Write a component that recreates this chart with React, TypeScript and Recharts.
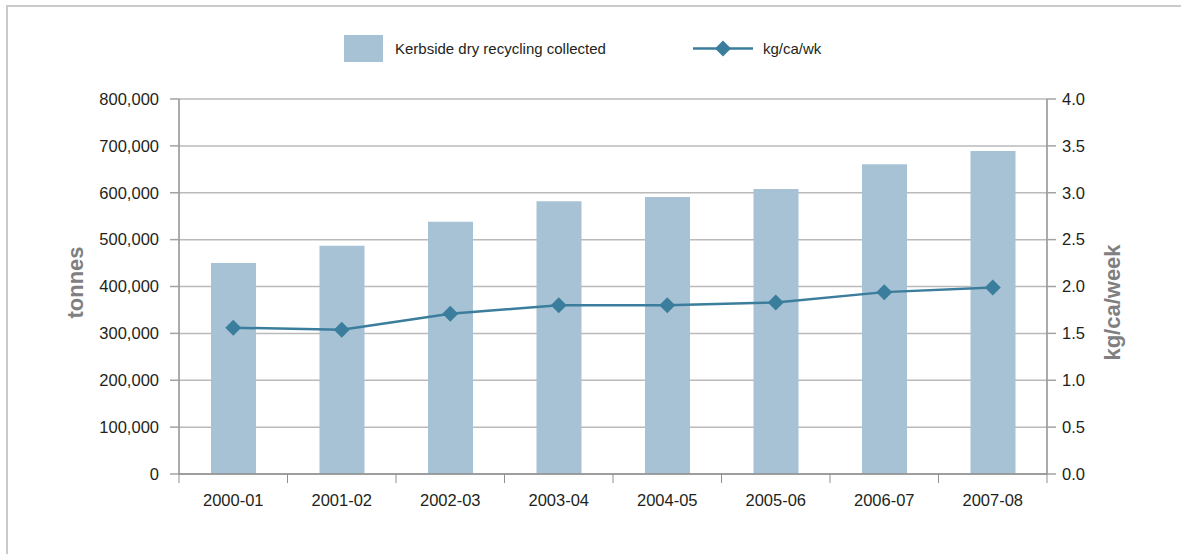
import React from 'react';
import { ComposedChart, Bar, Line, XAxis, YAxis, CartesianGrid } from 'recharts';

// financial years on the category axis
const years = ['2000-01', '2001-02', '2002-03', '2003-04', '2004-05', '2005-06', '2006-07', '2007-08'];
// kerbside dry recycling collected, tonnes
const tonnesCollected = [450000, 487000, 538000, 582000, 591000, 608000, 661000, 689000];
// kg per capita per week
const kgPerCapitaWeek = [1.56, 1.54, 1.71, 1.8, 1.8, 1.83, 1.94, 1.99];

const tonnesTicks = [0, 100000, 200000, 300000, 400000, 500000, 600000, 700000, 800000];
const kgTicks = [0, 0.5, 1, 1.5, 2, 2.5, 3, 3.5, 4];

const data = years.map((year, i) => ({
    year,
    tonnes: tonnesCollected[i],
    kg: kgPerCapitaWeek[i],
}));

// layout
const CHART_W = 1181;
const CHART_H = 554;
const PLOT_LEFT = 179;
const PLOT_RIGHT = 1047;
const PLOT_TOP = 99;
const PLOT_BOTTOM = 474;
const Y_AXIS_W = 100;
const X_AXIS_H = 30;
const HALF_BAND = (PLOT_RIGHT - PLOT_LEFT) / years.length / 2;

const BAR_COLOR = '#a7c2d4';
const LINE_COLOR = '#3b7d9c';
const AXIS_COLOR = '#8f8f8f';
const TICK_COLOR = '#a3a3a3';
const GRID_COLOR = '#bababa';
const TEXT_COLOR = '#231f20';
const TITLE_COLOR = '#808080';
const FONT = "'Liberation Sans', Arial, sans-serif";
const TICK_FONT_SIZE = 16.5;

const fmtTonnes = (v: number) => v.toLocaleString('en-GB');
const fmtKg = (v: number) => v.toFixed(1);

// x tick: label in the middle of the band, tick mark on the band boundaries
const YearTick = (props: any) => {
    const { x, y, payload, index, visibleTicksCount } = props;
    return (
        <g>
            <line x1={x - HALF_BAND} x2={x - HALF_BAND} y1={y} y2={y + 9} stroke={AXIS_COLOR} />
            {index === visibleTicksCount - 1 && (
                <line x1={x + HALF_BAND} x2={x + HALF_BAND} y1={y} y2={y + 9} stroke={AXIS_COLOR} />
            )}
            <text x={x} y={y + 32} textAnchor="middle" fill={TEXT_COLOR} fontSize={TICK_FONT_SIZE} fontFamily={FONT}>
                {payload.value}
            </text>
        </g>
    );
};

const Diamond = (props: any) => {
    const { cx, cy } = props;
    if (cx == null || cy == null) return null;
    const r = 8;
    return (
        <path
            d={`M${cx},${cy - r} L${cx + r},${cy} L${cx},${cy + r} L${cx - r},${cy} Z`}
            fill={LINE_COLOR}
        />
    );
};

const axisTitle = (text: string, dx: number, dy: number) => (props: any) => {
    const vb = props.viewBox || {};
    const x = vb.x + dx;
    const y = vb.y + vb.height / 2 + dy;
    return (
        <text
            x={x}
            y={y}
            transform={`rotate(-90, ${x}, ${y})`}
            textAnchor="middle"
            dominantBaseline="central"
            fill={TITLE_COLOR}
            fontSize={22}
            fontWeight="bold"
            fontFamily={FONT}
        >
            {text}
        </text>
    );
};

const Legend = () => (
    <div style={{ position: 'absolute', left: 0, top: 0, fontFamily: FONT, fontSize: 15, color: TEXT_COLOR }}>
        <div style={{ position: 'absolute', left: 344, top: 35, width: 39, height: 27, background: BAR_COLOR }} />
        <div style={{ position: 'absolute', left: 395, top: 35, height: 27, lineHeight: '27px', whiteSpace: 'nowrap' }}>
            Kerbside dry recycling collected
        </div>
        <svg style={{ position: 'absolute', left: 690, top: 35 }} width={66} height={27}>
            <line x1={3} x2={63} y1={13.5} y2={13.5} stroke={LINE_COLOR} strokeWidth={2.5} />
            <path d="M33,5.5 L41,13.5 L33,21.5 L25,13.5 Z" fill={LINE_COLOR} />
        </svg>
        <div style={{ position: 'absolute', left: 763, top: 35, height: 27, lineHeight: '27px', whiteSpace: 'nowrap' }}>
            kg/ca/wk
        </div>
    </div>
);

export default function App() {
    return (
        <div
            style={{
                position: 'fixed',
                left: 0,
                top: 0,
                width: CHART_W,
                height: CHART_H,
                overflow: 'hidden',
                background: '#fff',
            }}
        >
            <div
                style={{
                    position: 'absolute',
                    left: 6,
                    top: 5,
                    width: 1240,
                    height: 640,
                    border: '2px solid #cacaca',
                }}
            />
            <Legend />
            <div style={{ position: 'absolute', left: 0, top: 0 }}>
                <ComposedChart
                    width={CHART_W}
                    height={CHART_H}
                    data={data}
                    barSize={45}
                    margin={{
                        top: PLOT_TOP,
                        left: PLOT_LEFT - Y_AXIS_W,
                        right: CHART_W - PLOT_RIGHT - Y_AXIS_W,
                        bottom: CHART_H - PLOT_BOTTOM - X_AXIS_H,
                    }}
                >
                    <CartesianGrid vertical={false} stroke={GRID_COLOR} strokeWidth={1.5} yAxisId="left" />
                    <XAxis
                        dataKey="year"
                        height={X_AXIS_H}
                        tickSize={0}
                        tickMargin={0}
                        tickLine={false}
                        axisLine={{ stroke: AXIS_COLOR, strokeWidth: 1.5 }}
                        tick={<YearTick />}
                        interval={0}
                    />
                    <YAxis
                        yAxisId="left"
                        width={Y_AXIS_W}
                        domain={[0, 800000]}
                        ticks={tonnesTicks}
                        tickFormatter={fmtTonnes}
                        tickSize={9}
                        tickMargin={11}
                        tickLine={{ stroke: TICK_COLOR, strokeWidth: 1.5 }}
                        axisLine={{ stroke: AXIS_COLOR, strokeWidth: 1.5 }}
                        tick={{ fill: TEXT_COLOR, fontSize: TICK_FONT_SIZE, fontFamily: FONT }}
                        label={axisTitle('tonnes', -4, -4)}
                    />
                    <YAxis
                        yAxisId="right"
                        orientation="right"
                        width={Y_AXIS_W}
                        domain={[0, 4]}
                        ticks={kgTicks}
                        tickFormatter={fmtKg}
                        tickSize={9}
                        tickMargin={6}
                        tickLine={{ stroke: TICK_COLOR, strokeWidth: 1.5 }}
                        axisLine={{ stroke: AXIS_COLOR, strokeWidth: 1.5 }}
                        tick={{ fill: TEXT_COLOR, fontSize: TICK_FONT_SIZE, fontFamily: FONT }}
                        label={axisTitle('kg/ca/week', 65, 16)}
                    />
                    <Bar yAxisId="left" dataKey="tonnes" fill={BAR_COLOR} isAnimationActive={false} />
                    <Line
                        yAxisId="right"
                        dataKey="kg"
                        type="linear"
                        stroke={LINE_COLOR}
                        strokeWidth={2.5}
                        dot={<Diamond />}
                        activeDot={false}
                        isAnimationActive={false}
                    />
                </ComposedChart>
            </div>
        </div>
    );
}
